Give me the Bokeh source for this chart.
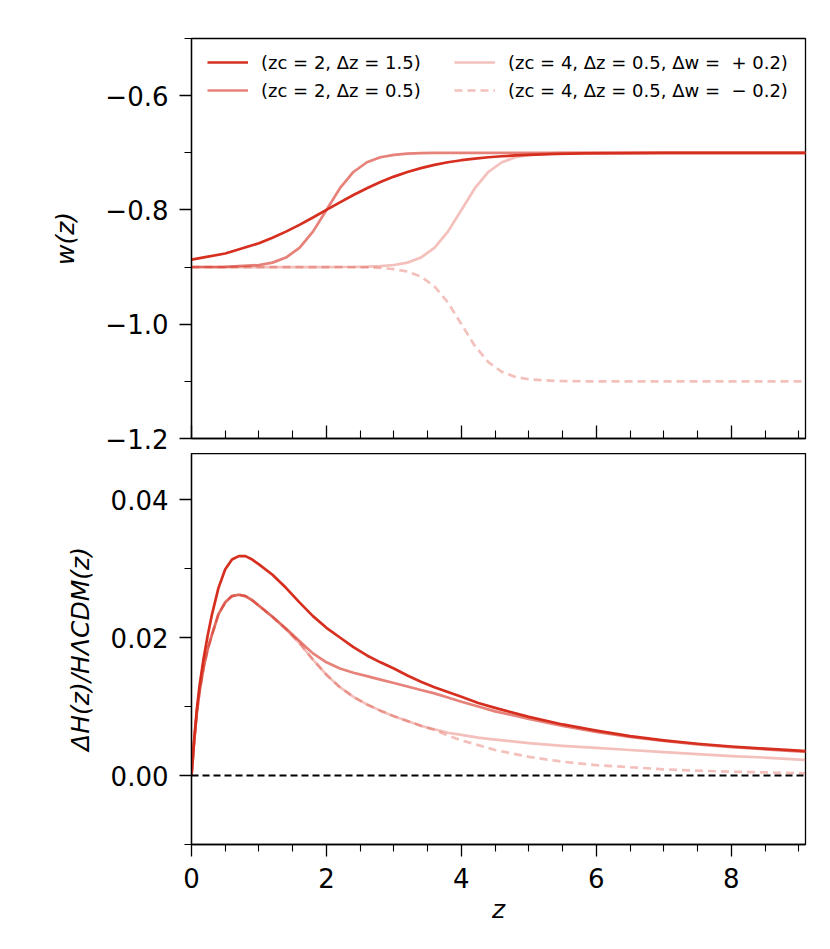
from bokeh.plotting import figure
from bokeh.layouts import column
from bokeh.models import Range1d, FixedTicker, Legend, LegendItem, Span
from bokeh.embed import file_html
from bokeh.resources import INLINE

# ---------------- data ----------------
z_w = [0.0, 0.5, 1.0, 1.2, 1.4, 1.6, 1.8, 2.0, 2.2, 2.4, 2.6, 2.8, 3.0, 3.2, 3.4,
       3.6, 3.8, 4.0, 4.2, 4.4, 4.6, 4.8, 5.0, 5.4, 5.8, 6.5, 7.0, 8.0, 9.2]

w_zc2_dz15 = [-0.8870, -0.8762, -0.8583, -0.8488, -0.8380, -0.8261, -0.8133, -0.8000,
              -0.7867, -0.7739, -0.7620, -0.7512, -0.7417, -0.7336, -0.7268, -0.7212,
              -0.7166, -0.7130, -0.7101, -0.7078, -0.7061, -0.7047, -0.7036, -0.7021,
              -0.7012, -0.7005, -0.7003, -0.7001, -0.7000]

w_zc2_dz05 = [-0.8999, -0.8995, -0.8964, -0.8922, -0.8834, -0.8664, -0.8380, -0.8000,
              -0.7620, -0.7336, -0.7166, -0.7078, -0.7036, -0.7016, -0.7007, -0.7003,
              -0.7001, -0.7000, -0.7000, -0.7000, -0.7000, -0.7000, -0.7000, -0.7000,
              -0.7000, -0.7000, -0.7000, -0.7000, -0.7000]

w_zc4_plus = [-0.9000, -0.9000, -0.9000, -0.9000, -0.9000, -0.9000, -0.9000, -0.9000,
              -0.8999, -0.8997, -0.8993, -0.8984, -0.8964, -0.8922, -0.8834, -0.8664,
              -0.8380, -0.8000, -0.7620, -0.7336, -0.7166, -0.7078, -0.7036, -0.7007,
              -0.7001, -0.7000, -0.7000, -0.7000, -0.7000]

w_zc4_minus = [-0.9000, -0.9000, -0.9000, -0.9000, -0.9000, -0.9000, -0.9000, -0.9000,
               -0.9001, -0.9003, -0.9007, -0.9016, -0.9036, -0.9078, -0.9166, -0.9336,
               -0.9620, -1.0000, -1.0380, -1.0664, -1.0834, -1.0922, -1.0964, -1.0993,
               -1.0999, -1.1000, -1.1000, -1.1000, -1.1000]

z_h = [0.0, 0.04, 0.08, 0.12, 0.18, 0.24, 0.3, 0.4, 0.5, 0.6, 0.7, 0.8, 0.9, 1.0,
       1.2, 1.4, 1.6, 1.8, 2.0, 2.2, 2.4, 2.6, 2.8, 3.0, 3.2, 3.4, 3.6, 3.8, 4.0,
       4.25, 4.5, 5.0, 5.5, 6.0, 6.5, 7.0, 7.5, 8.0, 8.5, 9.0, 9.2]

h_zc2_dz15 = [0.0, 0.0052, 0.0097, 0.0131, 0.0170, 0.0203, 0.0232, 0.0272, 0.0299, 0.0313,
              0.0318, 0.0318, 0.0313, 0.0306, 0.0291, 0.0272, 0.0251, 0.0231, 0.0214, 0.0200,
              0.0186, 0.0174, 0.0164, 0.0155, 0.0145, 0.0136, 0.0128, 0.0121, 0.0114,
              0.0105, 0.0098, 0.0085, 0.0074, 0.0065, 0.0057, 0.0051, 0.0046, 0.0042,
              0.0039, 0.0036, 0.0035]

h_zc2_dz05 = [0.0, 0.0050, 0.0092, 0.0122, 0.0157, 0.0183, 0.0203, 0.0234, 0.0251, 0.0260,
              0.0262, 0.0260, 0.0254, 0.0246, 0.0230, 0.0213, 0.0195, 0.0177, 0.0164, 0.0155,
              0.0149, 0.0144, 0.0139, 0.0134, 0.0129, 0.0124, 0.0119, 0.0113, 0.0107,
              0.0100, 0.0093, 0.0082, 0.0072, 0.0063, 0.0056, 0.0050, 0.0045, 0.0041,
              0.0038, 0.0035, 0.0034]

h_zc4_plus = [0.0, 0.0050, 0.0092, 0.0122, 0.0157, 0.0183, 0.0203, 0.0234, 0.0251, 0.0260,
              0.0262, 0.0260, 0.0254, 0.0246, 0.0230, 0.0212, 0.0192, 0.0168, 0.0146, 0.0128,
              0.0114, 0.0103, 0.0094, 0.0086, 0.0079, 0.0072, 0.0067, 0.0062, 0.0059,
              0.0055, 0.0052, 0.0047, 0.0043, 0.0040, 0.0037, 0.0034, 0.0031, 0.0028,
              0.0026, 0.0023, 0.0022]

h_zc4_minus = [0.0, 0.0050, 0.0092, 0.0122, 0.0157, 0.0183, 0.0203, 0.0234, 0.0251, 0.0260,
               0.0262, 0.0260, 0.0254, 0.0246, 0.0230, 0.0212, 0.0192, 0.0168, 0.0146, 0.0128,
               0.0114, 0.0103, 0.0094, 0.0086, 0.0079, 0.0072, 0.0066, 0.0058, 0.0051,
               0.0044, 0.0037, 0.0027, 0.0020, 0.0015, 0.0012, 0.0009, 0.0007, 0.00055,
               0.00045, 0.00035, 0.0003]

labels = ["(zc = 2, Δz = 1.5)", "(zc = 2, Δz = 0.5)",
          "(zc = 4, Δz = 0.5, Δw =  + 0.2)", "(zc = 4, Δz = 0.5, Δw =  − 0.2)"]

w_ticks = [-1.2, -1.0, -0.8, -0.6]
w_minor = [-1.1, -0.9, -0.7, -0.5]
h_ticks = [0.0, 0.02, 0.04]
h_minor = [-0.01, 0.01, 0.03]
z_ticks = [0, 2, 4, 6, 8]
z_minor = [0.5, 1, 1.5, 2.5, 3, 3.5, 4.5, 5, 5.5, 6.5, 7, 7.5, 8.5, 9]

# ---------------- styling ----------------
RED = "#d62f1f"
ALPHAS = [1.0, 0.6, 0.3, 0.3]
DASHES = ["solid", "solid", "solid", "8 5"]
LW = 2.7
FONT = "DejaVu Sans"
TICK_FS = "26px"


def style_axes(p):
    p.grid.visible = False
    p.outline_line_color = "black"
    p.outline_line_width = 1.3
    for ax in p.axis:
        ax.axis_line_color = "black"
        ax.axis_line_width = 1.3
        ax.major_tick_line_color = "black"
        ax.minor_tick_line_color = "black"
        ax.major_tick_line_width = 1.3
        ax.minor_tick_line_width = 1.1
        ax.major_tick_in = 0
        ax.minor_tick_in = 0
        ax.major_tick_out = 12
        ax.minor_tick_out = 7
        ax.major_label_text_font = FONT
        ax.major_label_text_font_size = TICK_FS
        ax.major_label_text_color = "black"
        ax.axis_label_text_font = FONT
        ax.axis_label_text_font_size = "25px"
        ax.axis_label_text_color = "black"
        ax.axis_label_text_font_style = "italic"


# ---------------- top panel: w(z) ----------------
p1 = figure(width=822, height=453, x_range=Range1d(0, 9.1), y_range=Range1d(-1.2, -0.5),
            output_backend="svg", toolbar_location=None,
            min_border_left=191, min_border_right=17, min_border_top=38, min_border_bottom=15)
style_axes(p1)
p1.yaxis.ticker = FixedTicker(ticks=w_ticks, minor_ticks=w_minor)
p1.yaxis.major_label_overrides = {v: ("−%.1f" % abs(v)) for v in w_ticks}
p1.yaxis.major_label_standoff = 11
p1.yaxis.axis_label = "w(z)"
p1.yaxis.axis_label_standoff = 22
p1.xaxis.ticker = FixedTicker(ticks=z_ticks, minor_ticks=z_minor)
p1.xaxis.major_tick_out = 0
p1.xaxis.minor_tick_out = 0
p1.xaxis.major_tick_in = 13
p1.xaxis.minor_tick_in = 8
p1.xaxis.major_label_overrides = {t: "" for t in z_ticks}
p1.xaxis.major_label_text_font_size = "6px"
p1.xaxis.major_label_standoff = 0

w_series = [w_zc2_dz15, w_zc2_dz05, w_zc4_plus, w_zc4_minus]
r_top = []
for ys, a, d in zip(w_series, ALPHAS, DASHES):
    r = p1.line(z_w, ys, line_color=RED, line_alpha=a, line_width=LW, line_dash=d)
    r_top.append(r)

leg_kw = dict(glyph_width=41, glyph_height=22, label_height=22, label_standoff=13,
              spacing=6, padding=0, margin=0, border_line_alpha=0,
              background_fill_alpha=0, label_text_font=FONT,
              label_text_font_size="18px", label_text_color="black")
leg1 = Legend(items=[LegendItem(label=labels[0], renderers=[r_top[0]]),
                     LegendItem(label=labels[1], renderers=[r_top[1]])],
              location=(16, 337), **leg_kw)
leg2 = Legend(items=[LegendItem(label=labels[2], renderers=[r_top[2]]),
                     LegendItem(label=labels[3], renderers=[r_top[3]])],
              location=(263, 337), **leg_kw)
p1.add_layout(leg1)
p1.add_layout(leg2)

# ---------------- bottom panel: dH/H ----------------
p2 = figure(width=822, height=481, x_range=p1.x_range, y_range=Range1d(-0.01, 0.04667),
            output_backend="svg", toolbar_location=None,
            min_border_left=191, min_border_right=17, min_border_top=0, min_border_bottom=90)
style_axes(p2)
p2.yaxis.ticker = FixedTicker(ticks=h_ticks, minor_ticks=h_minor)
p2.yaxis.major_label_overrides = {v: "%.2f" % v for v in h_ticks}
p2.yaxis.major_label_standoff = 11
p2.yaxis.axis_label = "ΔH(z)/HΛCDM(z)"
p2.yaxis.axis_label_standoff = 13
p2.xaxis.ticker = FixedTicker(ticks=z_ticks, minor_ticks=z_minor)
p2.xaxis.major_label_standoff = 11
p2.xaxis.axis_label = "z"
p2.xaxis.axis_label_standoff = 4

p2.add_layout(Span(location=0, dimension="width", line_color="black",
                   line_width=2, line_dash="7 4"))

h_series = [h_zc2_dz15, h_zc2_dz05, h_zc4_plus, h_zc4_minus]
for ys, a, d in zip(h_series, ALPHAS, DASHES):
    p2.line(z_h, ys, line_color=RED, line_alpha=a, line_width=LW, line_dash=d,
            line_join="round")

layout = column(p1, p2, spacing=0)
open("out.html", "w").write(file_html(layout, INLINE))
